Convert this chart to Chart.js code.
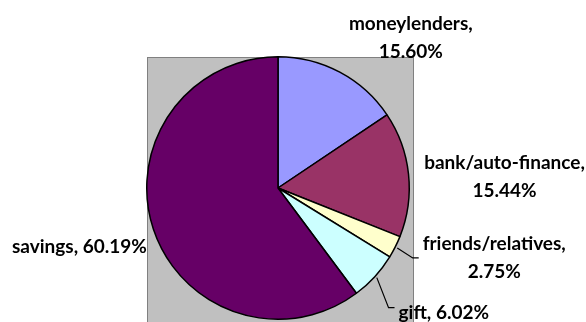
<!DOCTYPE html>
<html>
<head>
<meta charset="utf-8">
<script src="https://cdn.jsdelivr.net/npm/chart.js@4.4.0/dist/chart.umd.min.js"></script>
<style>
  html, body { margin: 0; padding: 0; background: #fff; }
  #wrap { width: 586px; height: 322px; }
</style>
</head>
<body>
<div id="wrap"><canvas id="pieChart" width="586" height="322"></canvas></div>
<script>
const categories = ["moneylenders", "bank/auto-finance", "friends/relatives", "gift", "savings"];
const shares = [15.60, 15.44, 2.75, 6.02, 60.19];
const sliceColors = ["#9999FF", "#993366", "#FFFFCC", "#CCFFFF", "#660066"];

// label placement: nudge from the slice's outer edge, wrap = name and value on two lines
const labelStyle = [
  { dx: 71, dy: -34, wrap: true },
  { dx: 96, dy: 3, wrap: true },
  { dx: 99, dy: 11, wrap: true, leader: true },
  { dx: 69, dy: 36, wrap: false, leader: true },
  { dx: -74, dy: 18, wrap: false },
];

const plotBox = {
  id: "plotBox",
  beforeDatasetsDraw(chart) {
    const { ctx, chartArea } = chart;
    ctx.save();
    ctx.fillStyle = "#C0C0C0";
    const x = chartArea.left + 1, y = chartArea.top + 1;
    const w = chartArea.width + 2, h = chart.height - y + 2;
    ctx.fillRect(x, y, w, h);
    ctx.strokeStyle = "#808080";
    ctx.lineWidth = 1;
    ctx.strokeRect(x + 0.5, y + 0.5, w, h);
    ctx.restore();
  },
};

const pieLabels = {
  id: "pieLabels",
  afterDatasetsDraw(chart) {
    const { ctx } = chart;
    const arcs = chart.getDatasetMeta(0).data;
    ctx.save();
    ctx.font = "bold 19px Lato";
    ctx.fillStyle = "#000";
    ctx.textAlign = "center";
    ctx.textBaseline = "middle";
    const lineH = 28;
    arcs.forEach((arc, i) => {
      const { x, y, startAngle, endAngle, outerRadius } = arc.getProps(["x", "y", "startAngle", "endAngle", "outerRadius"], true);
      const mid = (startAngle + endAngle) / 2;
      const ex = x + Math.cos(mid) * outerRadius;
      const ey = y + Math.sin(mid) * outerRadius;
      const st = labelStyle[i];
      const val = shares[i].toFixed(2) + "%";
      const lines = st.wrap ? [categories[i] + ",", val] : [categories[i] + ", " + val];
      const cx = ex + st.dx, cy = ey + st.dy;
      const top = cy - (lines.length - 1) * lineH / 2;
      let maxW = 0;
      lines.forEach((t, k) => {
        ctx.fillText(t, cx, top + k * lineH);
        maxW = Math.max(maxW, ctx.measureText(t).width);
      });
      if (st.leader) {
        const lx = cx - maxW / 2 - 4;
        const ly = st.wrap ? cy : cy - 5;
        ctx.beginPath();
        ctx.strokeStyle = "#000";
        ctx.lineWidth = 1.2;
        ctx.moveTo(ex + 2, ey + 1);
        ctx.lineTo(lx - 6, ly);
        ctx.lineTo(lx, ly);
        ctx.stroke();
      }
    });
    ctx.restore();
  },
};

const pieData = {
  labels: categories,
  datasets: [
    {
      data: shares,
      backgroundColor: sliceColors,
      borderColor: "#000",
      borderWidth: 1.5,
    },
  ],
};

const pieConfig = {
  type: "pie",
  data: pieData,
  options: {
    responsive: false,
    animation: false,
    events: [],
    layout: { padding: { left: 146, top: 56, right: 176, bottom: 2 } },
    plugins: {
      legend: { display: false },
      tooltip: { enabled: false },
    },
  },
  plugins: [plotBox, pieLabels],
};

const pieChart = new Chart(document.getElementById("pieChart"), pieConfig);
</script>
</body>
</html>
